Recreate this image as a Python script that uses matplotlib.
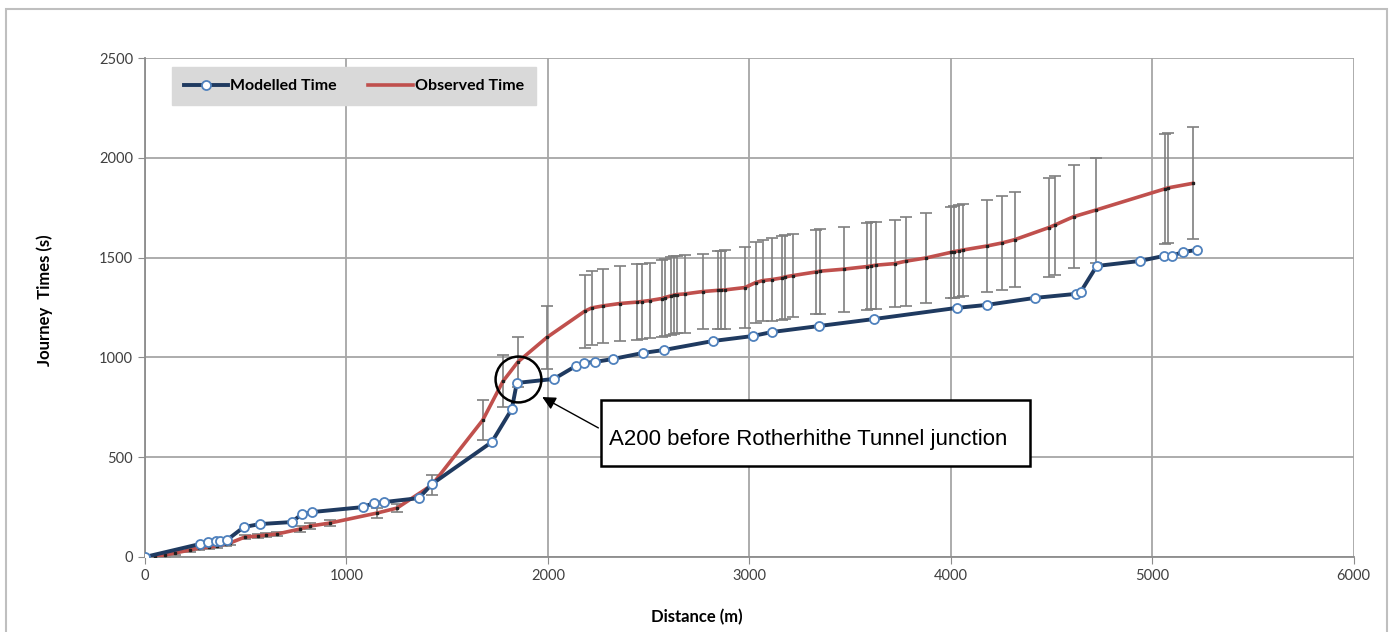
import matplotlib.pyplot as plt
from matplotlib.lines import Line2D
from matplotlib.patches import Rectangle

plt.rcParams['font.family'] = ['Lato', 'DejaVu Sans']

# modelled journey times
mod_x = [0, 273, 313, 352, 372, 407, 491, 571, 729, 779, 829, 1082, 1136, 1186, 1360, 1424,
         1722, 1821, 1846, 2030, 2139, 2179, 2233, 2323, 2471, 2576, 2819, 3017, 3112, 3345,
         3618, 4030, 4179, 4417, 4620, 4645, 4725, 4938, 5057, 5097, 5151, 5221]
mod_y = [0, 65, 75, 80, 80, 85, 150, 165, 175, 215, 225, 250, 270, 275, 295, 365,
         576, 741, 872, 892, 957, 972, 977, 992, 1022, 1037, 1082, 1107, 1127, 1157,
         1192, 1248, 1263, 1298, 1318, 1328, 1458, 1483, 1508, 1508, 1528, 1538]

# observed journey times with error
obs_x = [50, 100, 150, 223, 270, 320, 360, 400, 422, 496, 560, 600, 655, 769, 820, 918,
         1151, 1251, 1424, 1677, 1777, 1851, 1995, 2184, 2218, 2273, 2357, 2442, 2466, 2506,
         2566, 2580, 2610, 2625, 2640, 2680, 2769, 2844, 2860, 2878, 2978, 3032, 3067, 3112,
         3161, 3176, 3216, 3330, 3350, 3469, 3583, 3603, 3628, 3722, 3777, 3876, 4000, 4015,
         4040, 4060, 4179, 4253, 4318, 4486, 4516, 4610, 4720, 5065, 5077, 5201]
obs_y = [0, 10, 20, 35, 45, 50, 55, 65, 70, 100, 105, 110, 115, 140, 155, 170,
         220, 245, 360, 686, 880, 977, 1100, 1232, 1248, 1258, 1270, 1277, 1280, 1285,
         1295, 1300, 1308, 1312, 1315, 1318, 1330, 1336, 1337, 1338, 1350, 1375, 1385, 1390,
         1398, 1403, 1410, 1428, 1432, 1442, 1455, 1458, 1462, 1470, 1482, 1498, 1526, 1530,
         1534, 1538, 1558, 1573, 1590, 1650, 1663, 1705, 1738, 1845, 1849, 1872]
obs_err = [5, 8, 8, 10, 10, 10, 10, 10, 10, 10, 10, 12, 12, 15, 15, 15,
           25, 18, 50, 100, 130, 125, 160, 183, 185, 185, 188, 190, 190, 190,
           193, 193, 195, 195, 195, 197, 190, 195, 197, 198, 202, 203, 205, 207,
           210, 210, 210, 212, 213, 213, 218, 218, 218, 220, 222, 225, 230, 230,
           230, 230, 230, 235, 238, 248, 248, 258, 263, 275, 275, 280]

x_ticks = [0, 1000, 2000, 3000, 4000, 5000, 6000]
y_ticks = [0, 500, 1000, 1500, 2000, 2500]

fig = plt.figure(figsize=(13.94, 6.32), dpi=100)
ax = fig.add_axes([0.104, 0.1187, 0.867, 0.7895])

# outer chart frame
fig.patches.append(Rectangle((0.004, -0.01), 0.991, 0.996, transform=fig.transFigure,
                             fill=False, edgecolor='#bfbfbf', linewidth=1.5))

ax.errorbar(obs_x, obs_y, yerr=obs_err, fmt='none', ecolor='#7f7f7f', elinewidth=1.2,
            capsize=4, capthick=1.2, zorder=2)
ax.plot(obs_x, obs_y, color='#c0504d', linewidth=2.6, zorder=3)
ax.plot(obs_x, obs_y, linestyle='none', marker='s', markersize=1.6, color='#202020', zorder=4)
ax.plot(mod_x, mod_y, color='#1f3a60', linewidth=2.8, marker='o', markersize=6.5,
        markerfacecolor='white', markeredgecolor='#4f81bd', markeredgewidth=1.3, zorder=5)

ax.set_xlim(0, 6000)
ax.set_ylim(0, 2500)
ax.set_xticks(x_ticks)
ax.set_yticks(y_ticks)
ax.grid(True, color='#a6a6a6', linewidth=1.3)
ax.set_axisbelow(True)
for s in ['top', 'right']:
    ax.spines[s].set_visible(False)
for s in ['left', 'bottom']:
    ax.spines[s].set_color('#8c8c8c')
    ax.spines[s].set_linewidth(1.3)
ax.tick_params(axis='both', colors='#8c8c8c', labelcolor='#404040', labelsize=10.5, length=5)

ax.set_xlabel('Distance (m)', fontsize=12, fontweight='bold')
ax.set_ylabel('Journey  Times (s)', fontsize=12, fontweight='bold')
ax.xaxis.set_label_coords(0.457, -0.105)
ax.yaxis.set_label_coords(-0.076, 0.515)

# legend
handles = [Line2D([], [], color='#1f3a60', linewidth=2.8, marker='o', markersize=6.5,
                  markerfacecolor='white', markeredgecolor='#4f81bd', markeredgewidth=1.3),
           Line2D([], [], color='#c0504d', linewidth=2.6)]
leg = ax.legend(handles, ['Modelled Time', 'Observed Time'], loc='upper left',
                bbox_to_anchor=(0.022, 0.982), ncol=2, frameon=True, fancybox=False,
                facecolor='#d9d9d9', edgecolor='#d9d9d9', framealpha=1,
                prop={'weight': 'bold', 'size': 11.5}, handlelength=2.8, handletextpad=0.1,
                columnspacing=2.0, borderpad=0.75, borderaxespad=0)

# annotation
ax.plot([1851], [890], marker='o', markersize=33, markerfacecolor='none',
        markeredgecolor='black', markeredgewidth=1.8, zorder=6)
ax.annotate('', xy=(1960, 808), xytext=(2263, 640),
            arrowprops=dict(arrowstyle='-|>', color='black', linewidth=1.0,
                            mutation_scale=20), zorder=6)
ax.add_patch(Rectangle((2263, 456), 2129, 330, facecolor='white', edgecolor='black',
                       linewidth=1.8, zorder=6))
ax.text(3290, 588, 'A200 before Rotherhithe Tunnel junction', ha='center', va='center',
        fontsize=16, family=['Liberation Sans', 'DejaVu Sans'], zorder=7)

fig.savefig('out.png', dpi=100)
